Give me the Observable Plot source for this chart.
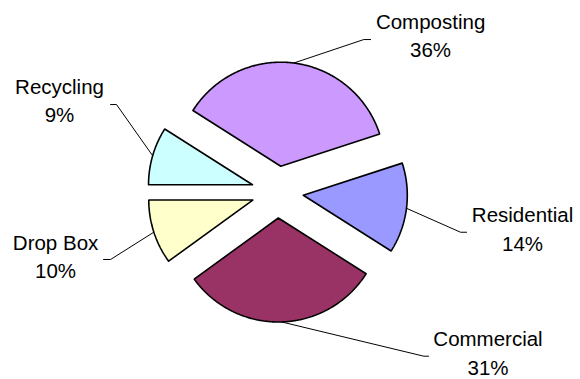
<!DOCTYPE html>
<html>
<head>
<meta charset="utf-8">
<script src="https://cdn.jsdelivr.net/npm/d3@7"></script>
<script src="https://cdn.jsdelivr.net/npm/@observablehq/plot@0.6"></script>
<style>
  html, body { margin: 0; padding: 0; background: #fff; }
  #chart svg { display: block; }
</style>
</head>
<body>
<div id="chart"></div>
<script>
// ---- data ----
const categories = ["Composting", "Residential", "Commercial", "Drop Box", "Recycling"];
const shares = [36, 14, 31, 10, 9];
const sliceColors = ["#CC99FF", "#9999FF", "#993366", "#FFFFCC", "#CCFFFF"];

// ---- layout (unit circle coordinates, pie radius = 1) ----
const firstSliceAngle = 302.4;   // clockwise from 12 o'clock, degrees
const explode = 0.25;
const labelX = [1.472, 2.356, 2.024, -2.134, -2.096];
const labelY = [1.296, -0.5625, -1.755, -0.825, 0.671];
const elbowX = [0.83, 1.76, 1.407, -1.605, -1.548];
const elbowY = [1.466, -0.387, -1.579, -0.649, 0.841];
const tickX = [0.895, 1.818, 1.452, -1.673, -1.605];

const total = d3.sum(shares);
let acc = firstSliceAngle;
const slices = categories.map((name, i) => {
  const a0 = acc, a1 = acc + shares[i] / total * 360;
  acc = a1;
  return {name, a0, a1, mid: (a0 + a1) / 2, value: shares[i], i};
});
const toXY = (compass, r) => {
  const t = (90 - compass) * Math.PI / 180;
  return [r * Math.cos(t), r * Math.sin(t)];
};

const slicePts = slices.flatMap(s => {
  const [ox, oy] = toXY(s.mid, explode);
  const pts = [{name: s.name, x: ox, y: oy}];
  const n = Math.ceil((s.a1 - s.a0) / 0.5);
  for (let k = 0; k <= n; k++) {
    const a = s.a0 + (s.a1 - s.a0) * k / n;
    const [px, py] = toXY(a, 1);
    pts.push({name: s.name, x: ox + px, y: oy + py});
  }
  pts.push({name: s.name, x: ox, y: oy});
  pts.push(pts[1]);
  return pts;
});

const leaderPts = slices.flatMap(s => {
  const [sx, sy] = toXY(s.mid, explode + 1);
  return [
    {name: s.name, x: sx, y: sy},
    {name: s.name, x: elbowX[s.i], y: elbowY[s.i]},
    {name: s.name, x: tickX[s.i], y: elbowY[s.i]}
  ];
});

const labels = slices.map(s => ({
  x: labelX[s.i], y: labelY[s.i],
  text: s.name + "\n" + Math.round(s.value / total * 100) + "%"
}));

const W = 580, H = 379, R = 104, cx = 277, cy = 191.5;

const chart = Plot.plot({
  width: W,
  height: H,
  margin: 0,
  x: {domain: [-cx / R, (W - cx) / R], axis: null},
  y: {domain: [-(H - cy) / R, cy / R], axis: null},
  color: {domain: categories, range: sliceColors},
  style: {background: "#fff"},
  marks: [
    Plot.line(leaderPts, {x: "x", y: "y", z: "name", stroke: "#000", strokeWidth: 1, curve: "linear"}),
    Plot.line(slicePts, {x: "x", y: "y", z: "name", fill: "name", stroke: "#000", strokeWidth: 1.6, strokeLinejoin: "miter", curve: "linear"}),
    Plot.text(labels, {
      x: "x", y: "y", text: "text",
      fontSize: 20.5, lineHeight: 1.37, lineAnchor: "bottom", textAnchor: "middle",
      fontFamily: "'Liberation Sans', Arial, sans-serif", fill: "#000"
    })
  ]
});
document.getElementById("chart").appendChild(chart);
</script>
</body>
</html>
